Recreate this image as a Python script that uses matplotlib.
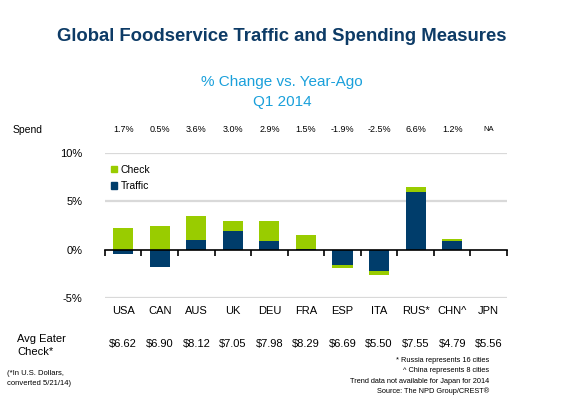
import numpy as np
import matplotlib.pyplot as plt
from matplotlib.patches import Patch

countries = ['USA', 'CAN', 'AUS', 'UK', 'DEU', 'FRA', 'ESP', 'ITA', 'RUS*', 'CHN^', 'JPN']
traffic = [-0.4, -1.8, 1.0, 1.9, 0.9, 0.1, -1.6, -2.2, 5.9, 0.9, 0.0]
check = [2.2, 2.4, 2.5, 1.1, 2.1, 1.4, -0.3, -0.4, 0.6, 0.2, 0.0]
spend = ['1.7%', '0.5%', '3.6%', '3.0%', '2.9%', '1.5%', '-1.9%', '-2.5%', '6.6%', '1.2%', 'NA']
avg_check = ['$6.62', '$6.90', '$8.12', '$7.05', '$7.98', '$8.29', '$6.69', '$5.50',
             '$7.55', '$4.79', '$5.56']
footnotes = ['* Russia represents 16 cities', '^ China represents 8 cities',
             'Trend data not available for Japan for 2014', 'Source: The NPD Group/CREST\u00ae']

GREEN = '#99CC00'
NAVY = '#003D6B'
TITLE = '#0D3B66'
LIGHTBLUE = '#1AA0DB'

plt.rcParams['font.family'] = ['Liberation Sans', 'DejaVu Sans']

fig = plt.figure(figsize=(5.64, 3.97), dpi=100)
ax = fig.add_axes([0.186, 0.2486, 0.713, 0.3668])

x = np.arange(len(countries))
traffic = np.array(traffic)
check = np.array(check)
# check stacks on traffic when both go the same way, otherwise starts at zero
check_bottom = np.where(np.sign(traffic) == np.sign(check), traffic, 0)
ax.bar(x, traffic, width=0.55, color=NAVY, zorder=3)
ax.bar(x, check, width=0.55, bottom=check_bottom, color=GREEN, zorder=3)

ax.set_xlim(-0.5, len(countries) - 0.5)
ax.set_ylim(-5, 10)
ax.set_yticks([-5, 0, 5, 10])
ax.set_yticklabels(['-5%', '0%', '5%', '10%'], fontsize=8)
ax.tick_params(axis='y', length=0, pad=16)
for yv in [-5, 5, 10]:
    ax.axhline(yv, color='#D9D9D9', lw=1.6, zorder=1)
for s in ['left', 'right', 'top']:
    ax.spines[s].set_visible(False)
ax.spines['bottom'].set_position(('data', 0))
ax.spines['bottom'].set_linewidth(1.2)
ax.spines['bottom'].set_zorder(4)
ax.set_xticks(np.arange(len(countries) + 1) - 0.5)
ax.set_xticklabels([])
ax.tick_params(axis='x', direction='out', length=4, width=1.2, color='black')

trans = ax.get_xaxis_transform()
for i in range(len(countries)):
    ax.text(i, -0.087, countries[i], transform=trans, ha='center', va='center', fontsize=8)
    ax.text(i, 1.156, spend[i], transform=trans, ha='center', va='center',
            fontsize=6.5 if spend[i] != 'NA' else 5.5)
    ax.text(i, -0.314, avg_check[i], transform=trans, ha='center', va='center', fontsize=8)

handles = [Patch(color=GREEN, label='Check'), Patch(color=NAVY, label='Traffic')]
ax.legend(handles=handles, loc='upper left', bbox_to_anchor=(0.0, 0.96), frameon=False,
          fontsize=7.5, handlelength=0.6, handleheight=0.6, handletextpad=0.3,
          labelspacing=0.6, borderaxespad=0.2)

fig.text(0.5, 0.907, 'Global Foodservice Traffic and Spending Measures', ha='center', va='center',
         fontsize=13.3, fontweight='bold', color=TITLE)
fig.text(0.5, 0.794, '% Change vs. Year-Ago', ha='center', va='center', fontsize=11, color=LIGHTBLUE)
fig.text(0.5, 0.744, 'Q1 2014', ha='center', va='center', fontsize=11, color=LIGHTBLUE)
fig.text(0.023, 0.673, 'Spend', ha='left', va='center', fontsize=7.5)
fig.text(0.03, 0.13, 'Avg Eater\nCheck*', ha='left', va='center', fontsize=8, linespacing=1.3)
fig.text(0.012, 0.047, '(*In U.S. Dollars,\nconverted 5/21/14)', ha='left', va='center',
         fontsize=5.5, linespacing=1.6)
for k, note in enumerate(footnotes):
    fig.text(0.868, 0.091 - k * 0.0255, note, ha='right', va='center', fontsize=5.3)

fig.savefig('out.png', dpi=100)
